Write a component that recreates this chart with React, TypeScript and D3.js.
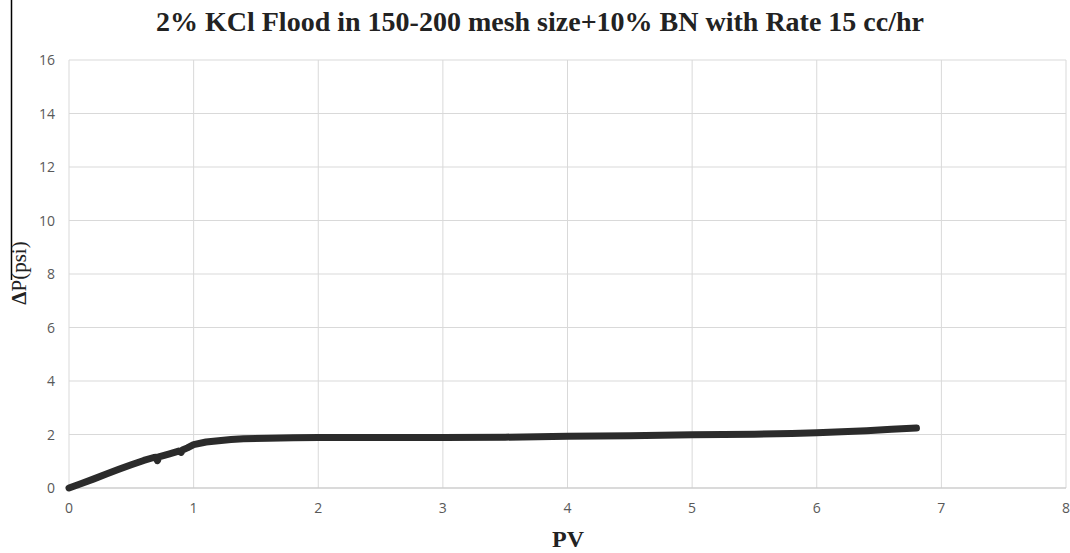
import React from 'react'
import * as d3 from 'd3'

// PV vs pressure drop
const pv = [0, 0.1, 0.2, 0.3, 0.4, 0.5, 0.6, 0.68, 0.7, 0.71, 0.72, 0.8, 0.88, 0.9, 0.91, 0.95, 1.0, 1.1, 1.2, 1.3, 1.4, 1.6, 1.8, 2.0, 2.5, 3.0, 3.5, 4.0, 4.5, 5.0, 5.5, 5.8, 6.0, 6.2, 6.4, 6.6, 6.8]
const dp = [0, 0.17, 0.34, 0.52, 0.7, 0.87, 1.03, 1.14, 1.15, 1.02, 1.16, 1.27, 1.38, 1.33, 1.42, 1.5, 1.62, 1.72, 1.77, 1.81, 1.84, 1.86, 1.88, 1.89, 1.89, 1.89, 1.9, 1.93, 1.95, 1.99, 2.01, 2.04, 2.07, 2.1, 2.14, 2.2, 2.24]
const xTicks = [0, 1, 2, 3, 4, 5, 6, 7, 8]
const yTicks = [0, 2, 4, 6, 8, 10, 12, 14, 16]

const W = 1070
const H = 553
const left = 69
const right = 1066
const top = 60
const bottom = 488

export default function App() {
  const x = d3.scaleLinear().domain([0, 8]).range([left, right])
  const y = d3.scaleLinear().domain([0, 16]).range([bottom, top])
  const pts = pv.map((v, i) => [v, dp[i]] as [number, number])
  const line = d3.line<[number, number]>()
    .x(d => x(d[0]))
    .y(d => y(d[1]))

  const tickFont = '"Open Sans", "Liberation Sans", sans-serif'
  const serif = '"Liberation Serif", "Times New Roman", serif'

  return (
    <svg width={W} height={H} style={{ position: 'absolute', left: 0, top: 0 }}>
      <rect width={W} height={H} fill="#fff" />
      <line x1={11.5} x2={11.5} y1={0} y2={280} stroke="#000" strokeWidth={1.5} />
      <text x={540} y={31} textAnchor="middle" fontFamily={serif} fontWeight="bold" fontSize={28} fill="#222">
        2% KCl Flood in 150-200 mesh size+10% BN with Rate 15 cc/hr
      </text>
      {xTicks.map(t => (
        <line key={'gx' + t} x1={x(t)} x2={x(t)} y1={top} y2={bottom} stroke="#d9d9d9" strokeWidth={1} />
      ))}
      {yTicks.map(t => (
        <line key={'gy' + t} x1={left} x2={right} y1={y(t)} y2={y(t)} stroke="#d9d9d9" strokeWidth={1} />
      ))}
      <line x1={left} x2={right} y1={bottom} y2={bottom} stroke="#c8c8c8" strokeWidth={1.2} />
      {xTicks.map(t => (
        <text key={'tx' + t} x={x(t)} y={513} textAnchor="middle" fontFamily={tickFont} fontSize={14} fill="#595959">
          {t}
        </text>
      ))}
      {yTicks.map(t => (
        <text key={'ty' + t} x={55} y={y(t) + 5} textAnchor="end" fontFamily={tickFont} fontSize={14} fill="#595959">
          {t}
        </text>
      ))}
      <path d={line(pts) ?? ''} fill="none" stroke="#2b2b2b" strokeWidth={7} strokeLinejoin="round" strokeLinecap="round" />
      <text x={568} y={547} textAnchor="middle" fontFamily={serif} fontWeight="bold" fontSize={24} fill="#222">
        PV
      </text>
      <text transform="translate(26,273) rotate(-90)" textAnchor="middle" fontFamily={serif} fontSize={21} fill="#222">
        <tspan fontWeight="bold">Δ</tspan>P(psi)
      </text>
    </svg>
  )
}
